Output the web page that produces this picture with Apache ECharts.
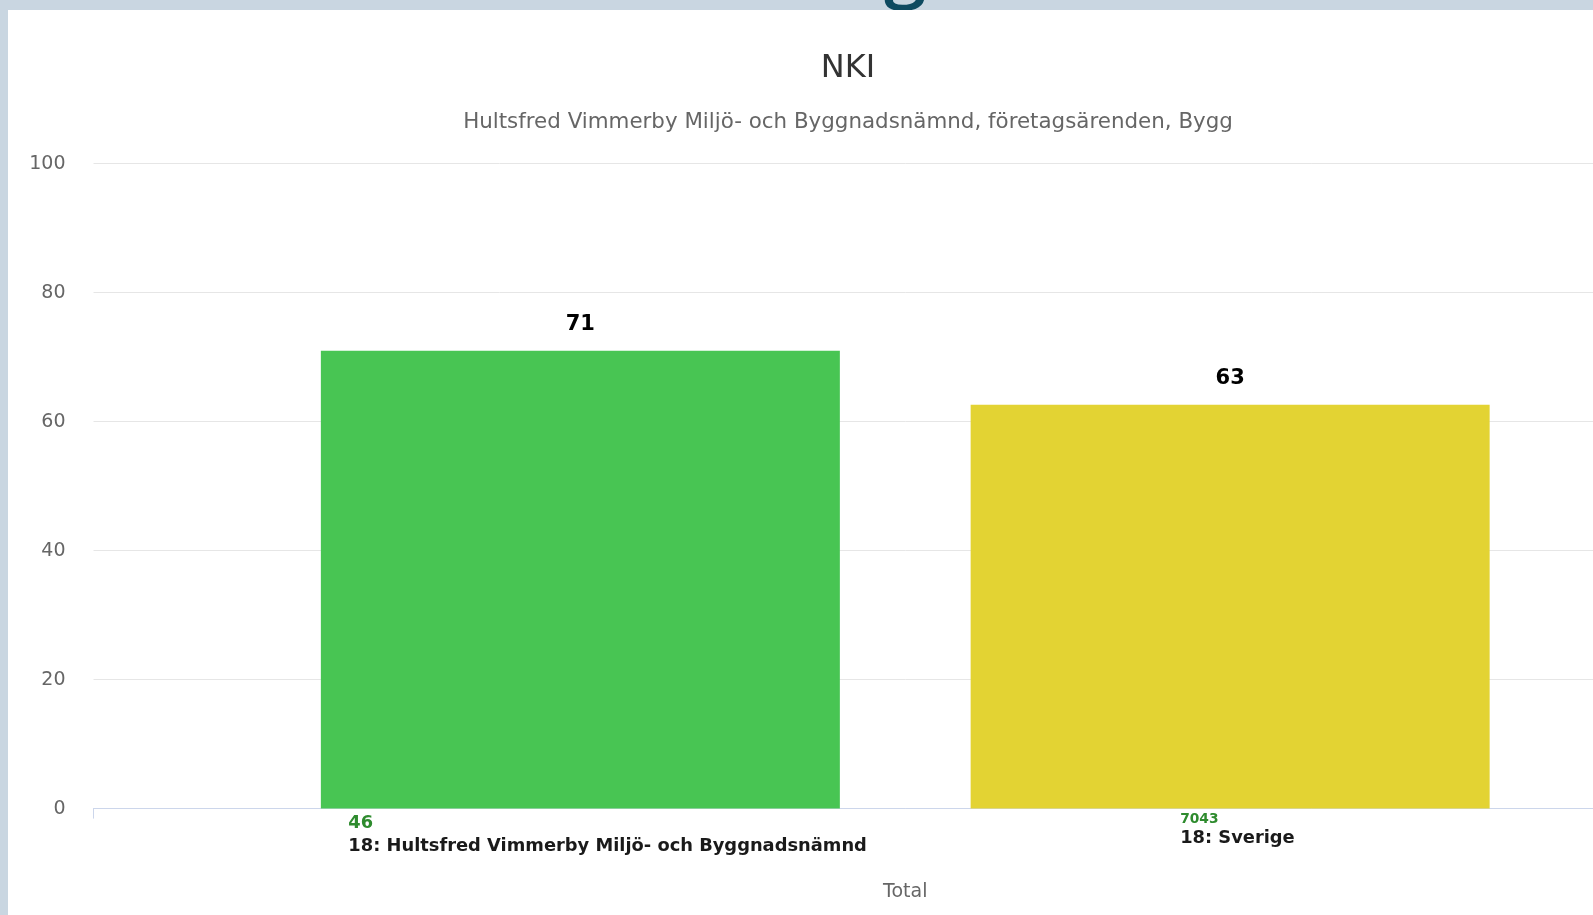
<!DOCTYPE html>
<html>
<head>
<meta charset="utf-8">
<script src="https://cdn.jsdelivr.net/npm/echarts@6/dist/echarts.min.js"></script>
<style>
html,body{margin:0;padding:0;background:#c9d6e1;overflow:hidden;width:1593px;height:915px;}
#chart{width:1717px;height:915px;}
</style>
</head>
<body>
<div id="chart"></div>
<script>
const titleText = 'NKI';
const subtitleText = 'Hultsfred Vimmerby Miljö- och Byggnadsnämnd, företagsärenden, Bygg';
const categories = ['Total'];
const seriesNames = ['18: Hultsfred Vimmerby Miljö- och Byggnadsnämnd', '18: Sverige'];
const seriesValues = [71.0, 62.6];
const respondentCounts = [46, 7043];
const seriesColors = ['#48c553', '#e3d333'];
const yTicks = [0, 20, 40, 60, 80, 100];

const chart = echarts.init(document.getElementById('chart'));
const FONT = 'DejaVu Sans';

const labelOffsets = [[-232, 0], [-50, 0]];
const countStyles = [
  {fontSize: 17.8, fontWeight: 'bold', color: '#2e8b2e', fontFamily: FONT, lineHeight: 22},
  {fontSize: 13.8, fontWeight: 'bold', color: '#2e8b2e', fontFamily: FONT, lineHeight: 14}
];

const series = seriesNames.map((name, i) => ({
  name: name,
  type: 'bar',
  data: [seriesValues[i]],
  barWidth: 519,
  barGap: '25.2%',
  itemStyle: {color: seriesColors[i]},
  label: {
    show: true,
    position: 'bottom',
    distance: 4,
    align: 'left',
    offset: labelOffsets[i],
    formatter: () => '{c|' + respondentCounts[i] + '}\n{n|' + name + '}',
    rich: {
      c: countStyles[i],
      n: {fontSize: 17.85, fontWeight: 'bold', color: '#1a1a1a', fontFamily: FONT, lineHeight: 24}
    }
  },
  markPoint: {
    symbol: 'rect',
    symbolSize: 0.01,
    data: [{coord: [0, seriesValues[i]], value: seriesValues[i]}],
    label: {
      show: true,
      position: 'top',
      distance: 16,
      formatter: String(Math.round(seriesValues[i])),
      fontSize: 21,
      fontWeight: 'bold',
      color: '#000',
      fontFamily: FONT
    }
  }
}));

chart.setOption({
  animation: false,
  backgroundColor: '#c9d6e1',
  textStyle: {fontFamily: FONT},
  graphic: [
    {type: 'rect', z: -100, shape: {x: 8, y: 10, width: 1720, height: 920}, style: {fill: '#ffffff'}},
    {type: 'text', z: -200, x: 905, y: 9, style: {text: 'g', font: '600 76px "Open Sans"', fill: '#0e4a60', align: 'center', verticalAlign: 'bottom'}}
  ],
  title: [
    {text: titleText, left: 843, top: 48, textAlign: 'center',
     textStyle: {fontFamily: FONT, fontSize: 32, fontWeight: 'normal', color: '#333333'}},
    {text: subtitleText, left: 843, top: 107, textAlign: 'center',
     textStyle: {fontFamily: FONT, fontSize: 21.4, fontWeight: 'normal', color: '#666666'}}
  ],
  grid: {left: 93.5, top: 163.6, right: 0, height: 645, containLabel: false},
  xAxis: {
    type: 'category',
    data: categories,
    axisLine: {lineStyle: {color: '#ccd6eb', width: 1}},
    axisTick: {show: true, length: 10, lineStyle: {color: '#ccd6eb'}},
    axisLabel: {color: '#666666', fontSize: 19, fontFamily: FONT, margin: 74}
  },
  yAxis: {
    type: 'value',
    min: yTicks[0],
    max: yTicks[yTicks.length - 1],
    interval: yTicks[1] - yTicks[0],
    axisLine: {show: false},
    axisTick: {show: false},
    axisLabel: {color: '#666666', fontSize: 19, fontFamily: FONT, margin: 28},
    splitLine: {lineStyle: {color: '#e6e6e6', width: 1}}
  },
  series: series
});
</script>
</body>
</html>
